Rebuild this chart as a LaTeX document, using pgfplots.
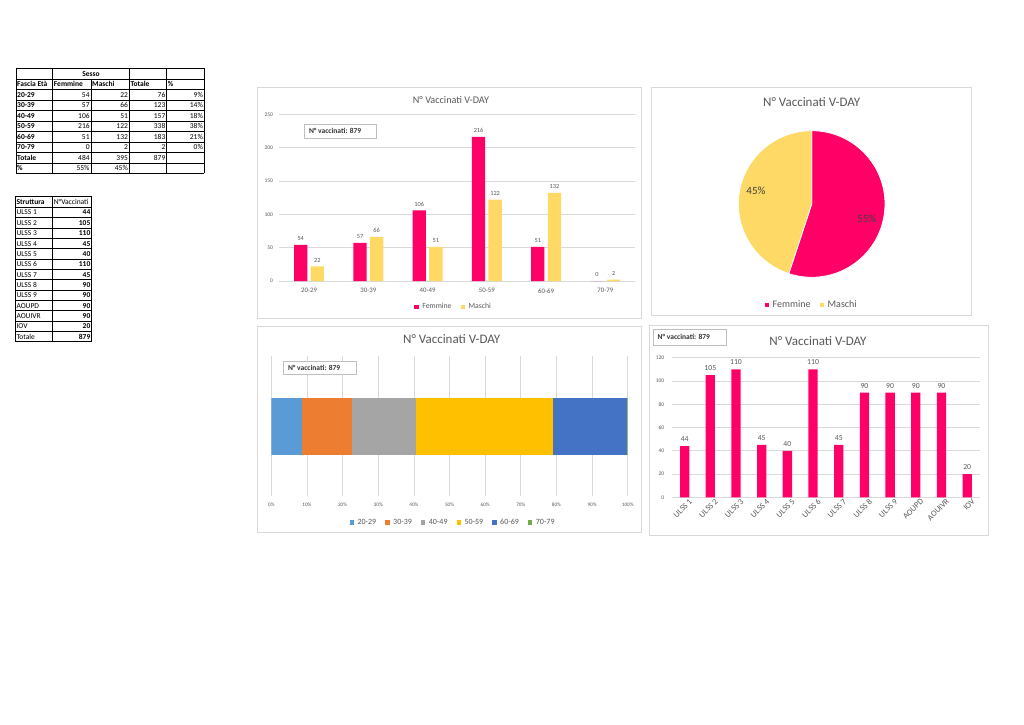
\documentclass[border=0pt]{standalone}
\usepackage{fontspec}
\setmainfont{Carlito}
\usepackage{pgfplots}
\pgfplotsset{compat=1.18}
\definecolor{pinkc}{HTML}{FF0066}
\definecolor{yelc}{HTML}{FFD966}
\definecolor{txt}{HTML}{595959}
\definecolor{gridc}{HTML}{D9D9D9}
\definecolor{boxc}{HTML}{BFBFBF}
\definecolor{c1}{HTML}{5B9BD5}
\definecolor{c2}{HTML}{ED7D31}
\definecolor{c3}{HTML}{A5A5A5}
\definecolor{c4}{HTML}{FFC000}
\definecolor{c5}{HTML}{4472C4}
\definecolor{c6}{HTML}{70AD47}
\newcommand{\fs}[1]{\fontsize{#1pt}{#1pt}\selectfont}
\pgfplotsset{
  excel/.style={
    scale only axis, anchor=south west,
    major tick length=0pt,
    axis line style={draw=none},
    grid style={draw=gridc, line width=0.6pt},
    /pgf/number format/assume math mode=true,
    legend style={draw=none, fill=none, anchor=center, legend columns=-1, text=txt,
      /tikz/every even column/.append style={column sep=7pt}},
    every axis plot/.append style={legend image code/.code={\fill[##1, draw=none] (0pt,-2.2pt) rectangle (4.4pt,2.2pt); \path (6pt,0pt);}},
  },
}
\pgfmathsetmacro{\angF}{484/879*360}
\pgfmathsetmacro{\angM}{395/879*360}
\begin{document}
\begin{tikzpicture}[x=1pt,y=1pt]
\fill[white] (0,0) rectangle (1024,724);
\useasboundingbox (0,0) rectangle (1024,724);

% ---------- chart frames, tables, titles (pixel coordinates, y downwards)
\begin{scope}[shift={(0pt,724pt)}, y=-1pt]
\draw[gridc, line width=0.6pt] (257.7,87.7) rectangle (641.7,318);
\draw[gridc, line width=0.6pt] (651.7,87.7) rectangle (971.7,315);
\draw[gridc, line width=0.6pt] (257.7,326) rectangle (641.7,532.7);
\draw[gridc, line width=0.6pt] (649.7,325.3) rectangle (988,535.3);

% Table 1
\foreach \i in {0,...,10} \draw[line width=0.5pt] (16,{68.3+10.5*\i}) -- (204.3,{68.3+10.5*\i});
\foreach \xx in {16,52.7,129.3,166.7,204.3} \draw[line width=0.5pt] (\xx,68.3) -- (\xx,173.3);
\draw[line width=0.5pt] (91,78.8) -- (91,173.3);
\node[font=\fs{7.5}\bfseries, anchor=base, inner sep=0pt] at (91,76.1) {Sesso};
\foreach \xx/\lab in {17/Fascia Età,53.7/Femmine,92/Maschi,130.3/Totale,167.7/\%}
  \node[font=\fs{7.5}\bfseries, anchor=base west, inner sep=0pt] at (\xx,86.6) {\lab};
\foreach \r/\lab/\f/\m/\t/\p in {2/20-29/54/22/76/9\%, 3/30-39/57/66/123/14\%, 4/40-49/106/51/157/18\%, 5/50-59/216/122/338/38\%, 6/60-69/51/132/183/21\%, 7/70-79/0/2/2/0\%, 8/Totale/484/395/879/, 9/\%/55\%/45\%//}{
  \node[font=\fs{7.5}\bfseries, anchor=base west, inner sep=0pt] at (17,{68.3+10.5*\r+7.8}) {\lab};
  \node[font=\fs{7.5}, anchor=base east, inner sep=0pt] at (89.8,{68.3+10.5*\r+7.8}) {\f};
  \node[font=\fs{7.5}, anchor=base east, inner sep=0pt] at (128.1,{68.3+10.5*\r+7.8}) {\m};
  \node[font=\fs{7.5}, anchor=base east, inner sep=0pt] at (165.5,{68.3+10.5*\r+7.8}) {\t};
  \node[font=\fs{7.5}, anchor=base east, inner sep=0pt] at (203.1,{68.3+10.5*\r+7.8}) {\p};
}

% Table 2
\foreach \i in {0,...,14} \draw[line width=0.5pt] (15,{196.7+10.357*\i}) -- (91.7,{196.7+10.357*\i});
\foreach \xx in {15,52.7,91.7} \draw[line width=0.5pt] (\xx,196.7) -- (\xx,341.7);
\node[font=\fs{7.5}\bfseries, anchor=base west, inner sep=0pt] at (16.3,204.6) {Struttura};
\node[font=\fs{7.5}, anchor=base west, inner sep=0pt] at (53.7,204.6) {N°Vaccinati};
\foreach \r/\lab/\v in {1/ULSS 1/44, 2/ULSS 2/105, 3/ULSS 3/110, 4/ULSS 4/45, 5/ULSS 5/40, 6/ULSS 6/110, 7/ULSS 7/45, 8/ULSS 8/90, 9/ULSS 9/90, 10/AOUPD/90, 11/AOUIVR/90, 12/IOV/20, 13/Totale/879}{
  \node[font=\fs{7.5}, anchor=base west, inner sep=0pt] at (16.3,{196.7+10.357*\r+7.9}) {\lab};
  \node[font=\fs{7.5}\bfseries, anchor=base east, inner sep=0pt] at (90.5,{196.7+10.357*\r+7.9}) {\v};
}

% Titles
\node[font=\fs{10.2}, text=txt] at (451,100) {N° Vaccinati V-DAY};
\node[font=\fs{13}, text=txt] at (811.7,101.7) {N° Vaccinati V-DAY};
\node[font=\fs{13}, text=txt] at (451.7,338.7) {N° Vaccinati V-DAY};
\node[font=\fs{13}, text=txt] at (818,341.3) {N° Vaccinati V-DAY};
\end{scope}

% ---------- Chart 1: grouped bars by age band
\begin{axis}[excel,
  at={(279.4pt,443pt)}, width=355.6pt, height=166.7pt,
  xmin=-0.5, xmax=5.5, ymin=0, ymax=250,
  ybar, bar width=13.3pt,
  xtick={0,...,5}, xticklabels={20-29,30-39,40-49,50-59,60-69,70-79},
  ytick={0,50,...,250}, ymajorgrids,
  yticklabel style={font=\fs{5.5}, text=txt, xshift=-3pt},
  xticklabel style={font=\fs{6.8}, text=txt, yshift=-4pt},
  nodes near coords, nodes near coords style={font=\fs{6.3}, text=txt, yshift=0.5pt},
  legend style={at={(0.49,-0.156)}, font=\fs{7.7}},
]
\addplot[fill=pinkc, draw=none, bar shift=-8.3pt] coordinates {(0,54) (1,57) (2,106) (3,216) (4,51) (5,0)};
\addlegendentry{Femmine}
\addplot[fill=yelc, draw=none, bar shift=8.3pt] coordinates {(0,22) (1,66) (2,51) (3,122) (4,132) (5,2)};
\addlegendentry{Maschi}
\end{axis}

% ---------- Chart 2: pie
\begin{axis}[excel,
  at={(811.7pt,520pt)}, anchor=center, width=146.6pt, height=146.6pt,
  xmin=-1, xmax=1, ymin=-1, ymax=1, hide axis, clip=false,
  legend image code/.code={\fill[#1, draw=none] (0pt,-2.5pt) rectangle (5pt,2.5pt); \path (7pt,0pt);},
  legend style={at={(0.5,-0.189)}, font=\fs{10}},
]
\addplot[draw=none, forget plot] coordinates {(0,0)};
\fill[pinkc, draw=white, line width=0.8pt] (axis cs:0,0) -- (axis cs:0,1) arc[start angle=90, end angle={90-\angF}, radius=73.3pt] -- cycle;
\fill[yelc, draw=white, line width=0.8pt] (axis cs:0,0) -- (axis cs:0,1) arc[start angle=90, end angle={90+\angM}, radius=73.3pt] -- cycle;
\node[font=\fs{11}, text=black!75] at (axis cs:0.75,-0.2) {55\%};
\node[font=\fs{11}, text=black!75] at (axis cs:-0.76,0.18) {45\%};
\addlegendimage{fill=pinkc, draw=none}
\addlegendentry{Femmine}
\addlegendimage{fill=yelc, draw=none}
\addlegendentry{Maschi}
\end{axis}

% ---------- Chart 3: 100% stacked bar
\begin{axis}[excel,
  at={(271.3pt,228pt)}, width=356.4pt, height=140pt,
  xmin=0, xmax=879, ymin=-1, ymax=1,
  xbar stacked, bar width=57pt,
  ytick=\empty,
  xtick={0,87.9,175.8,263.7,351.6,439.5,527.4,615.3,703.2,791.1,879},
  xticklabels={0\%,10\%,20\%,30\%,40\%,50\%,60\%,70\%,80\%,90\%,100\%},
  xmajorgrids,
  xticklabel style={font=\fs{5.2}, text=txt, yshift=-3.5pt},
  legend style={at={(0.51,-0.188)}, font=\fs{8}},
]
\addplot[fill=c1, draw=none] coordinates {(76,0)};
\addlegendentry{20-29}
\addplot[fill=c2, draw=none] coordinates {(123,0)};
\addlegendentry{30-39}
\addplot[fill=c3, draw=none] coordinates {(157,0)};
\addlegendentry{40-49}
\addplot[fill=c4, draw=none] coordinates {(338,0)};
\addlegendentry{50-59}
\addplot[fill=c5, draw=none] coordinates {(183,0)};
\addlegendentry{60-69}
\addplot[fill=c6, draw=none] coordinates {(2,0)};
\addlegendentry{70-79}
\end{axis}

% ---------- Chart 4: by structure
\begin{axis}[excel,
  at={(671.8pt,226.7pt)}, width=308.2pt, height=139.6pt,
  xmin=-0.5, xmax=11.5, ymin=0, ymax=120,
  ybar, bar width=9.3pt,
  xtick={0,...,11},
  xticklabels={ULSS 1,ULSS 2,ULSS 3,ULSS 4,ULSS 5,ULSS 6,ULSS 7,ULSS 8,ULSS 9,AOUPD,AOUIVR,IOV},
  ytick={0,20,...,120}, ymajorgrids,
  yticklabel style={font=\fs{5.5}, text=txt, xshift=-4pt},
  xticklabel style={font=\fs{8.3}, text=txt, rotate=45, anchor=north east, inner sep=0.5pt, xshift=3pt, yshift=-3pt},
  nodes near coords, nodes near coords style={font=\fs{7.7}, text=txt, yshift=1pt},
]
\addplot[fill=pinkc, draw=none] coordinates {(0,44) (1,105) (2,110) (3,45) (4,40) (5,110) (6,45) (7,90) (8,90) (9,90) (10,90) (11,20)};
\end{axis}

% ---------- text boxes
\begin{scope}[shift={(0pt,724pt)}, y=-1pt]
\draw[boxc, fill=white, line width=0.6pt] (304.3,124.3) rectangle (376.7,138.3);
\node[anchor=west, font=\fs{7.5}\bfseries, text=black!80, inner sep=0pt] at (308.8,131.3) {N° vaccinati: 879};
\draw[boxc, fill=white, line width=0.6pt] (283.3,361) rectangle (356.7,374.3);
\node[anchor=west, font=\fs{7.5}\bfseries, text=black!80, inner sep=0pt] at (287.8,367.7) {N° vaccinati: 879};
\draw[boxc, fill=white, line width=0.6pt] (653,329.3) rectangle (726.3,345.3);
\node[anchor=west, font=\fs{7.5}\bfseries, text=black!80, inner sep=0pt] at (657.5,337.3) {N° vaccinati: 879};
\end{scope}
\end{tikzpicture}
\end{document}
